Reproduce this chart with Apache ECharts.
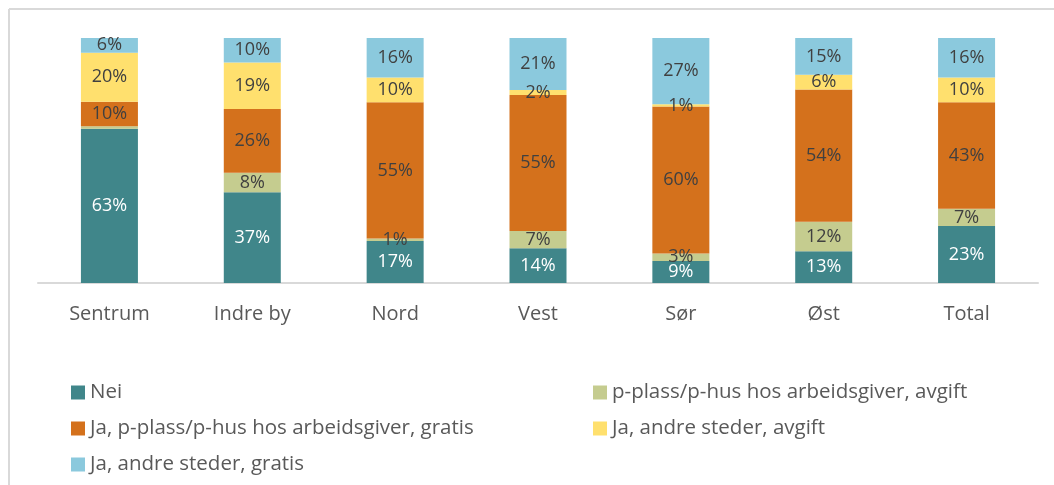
<!DOCTYPE html>
<html>
<head>
<meta charset="utf-8">
<script src="https://cdn.jsdelivr.net/npm/echarts@6/dist/echarts.min.js"></script>
<style>
  html, body { margin: 0; padding: 0; background: #fff; }
  #chart { width: 1054px; height: 485px; }
</style>
</head>
<body>
<div id="chart"></div>
<script>
// kategorier og andeler (%)
const categories = ['Sentrum', 'Indre by', 'Nord', 'Vest', 'Sør', 'Øst', 'Total'];
const nei         = [63, 37, 17, 14,  9, 13, 23];
const pAvgift     = [ 1,  8,  1,  7,  3, 12,  7];
const pGratis     = [10, 26, 55, 55, 60, 54, 43];
const andreAvgift = [20, 19, 10,  2,  1,  6, 10];
const andreGratis = [ 6, 10, 16, 21, 27, 15, 16];
// etiketter som ikke vises i originalen: [serie, kategori]
const hiddenLabels = [[1, 0]];

const seriesNames = [
  'Nei',
  'p-plass/p-hus hos arbeidsgiver, avgift',
  'Ja, p-plass/p-hus hos arbeidsgiver, gratis',
  'Ja, andre steder, avgift',
  'Ja, andre steder, gratis'
];
const colors = ['#40868a', '#c5cc8f', '#d4711c', '#ffe06e', '#8bc9dd'];
const allValues = [nei, pAvgift, pGratis, andreAvgift, andreGratis];

// 100 % stablet, som i Excel
const totals = categories.map((c, i) => allValues.reduce((s, arr) => s + arr[i], 0));

const FONT = 'Open Sans';

const series = allValues.map((arr, si) => ({
  name: seriesNames[si],
  type: 'bar',
  stack: 'all',
  barWidth: 57,
  itemStyle: { color: colors[si] },
  label: {
    show: true,
    position: 'inside',
    fontFamily: FONT,
    fontSize: 18,
    color: si === 0 ? '#ffffff' : '#404040',
    formatter: p => p.data.hide ? '' : p.data.raw + '%'
  },
  data: arr.map((v, ci) => ({
    value: v / totals[ci] * 100,
    raw: v,
    hide: hiddenLabels.some(h => h[0] === si && h[1] === ci)
  }))
}));

const legendText = { color: '#595959', fontSize: 20.5, fontFamily: FONT };

const myChart = echarts.init(document.getElementById('chart'));
myChart.setOption({
  animation: false,
  textStyle: { fontFamily: FONT },
  grid: { left: 38, right: 16, top: 38, bottom: 202 },
  xAxis: {
    type: 'category',
    data: categories,
    axisLine: { lineStyle: { color: '#d9d9d9', width: 2 } },
    axisTick: { show: false },
    axisLabel: { color: '#595959', fontSize: 20, fontFamily: FONT, margin: 21 }
  },
  yAxis: {
    type: 'value',
    min: 0,
    max: 100,
    show: false
  },
  legend: [
    {
      data: [seriesNames[0], seriesNames[2], seriesNames[4]],
      orient: 'vertical',
      left: 66,
      top: 377,
      icon: 'rect',
      itemWidth: 14,
      itemHeight: 14,
      itemGap: 15,
      textStyle: legendText
    },
    {
      data: [seriesNames[1], seriesNames[3]],
      orient: 'vertical',
      left: 588,
      top: 377,
      icon: 'rect',
      itemWidth: 14,
      itemHeight: 14,
      itemGap: 15,
      textStyle: legendText
    }
  ],
  graphic: [
    { type: 'line', shape: { x1: 9, y1: 9, x2: 1054, y2: 9 }, style: { stroke: '#d9d9d9', lineWidth: 2 } },
    { type: 'line', shape: { x1: 9, y1: 9, x2: 9, y2: 485 }, style: { stroke: '#d9d9d9', lineWidth: 2 } }
  ],
  series: series
});
</script>
</body>
</html>
